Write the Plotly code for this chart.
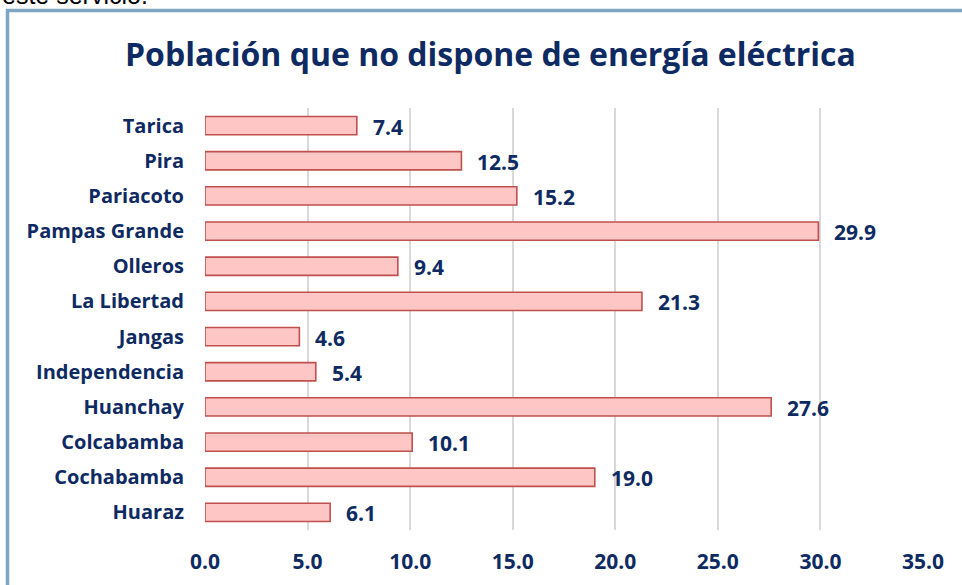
import plotly.graph_objects as go

categories = ["Huaraz", "Cochabamba", "Colcabamba", "Huanchay", "Independencia",
              "Jangas", "La Libertad", "Olleros", "Pampas Grande", "Pariacoto",
              "Pira", "Tarica"]
values = [6.1, 19.0, 10.1, 27.6, 5.4, 4.6, 21.3, 9.4, 29.9, 15.2, 12.5, 7.4]
x_ticks = [0, 5, 10, 15, 20, 25, 30, 35]
x_tick_labels = ["0.0", "5.0", "10.0", "15.0", "20.0", "25.0", "30.0", "35.0"]
title_text = "Población que no dispone de energía eléctrica"

NAVY = "#0E2A62"
FONT = "Open Sans"

W, H = 962, 585
L, R, T, B = 205, 39, 108, 55
pw, ph = W - L - R, H - T - B


def px_x(p):
    return (p - L) / pw


def px_y(p):
    return (H - B - p) / ph


fig = go.Figure()
fig.add_trace(go.Bar(
    y=categories, x=values, orientation="h", width=0.52,
    marker=dict(color="#FFC6C6", line=dict(color="#C0504D", width=1.6)),
    hoverinfo="x+y", showlegend=False,
))

annotations = []
for c, v in zip(categories, values):
    annotations.append(dict(
        x=v, y=c, xref="x", yref="y", text=f"{v:.1f}", showarrow=False,
        xanchor="left", yanchor="middle", xshift=14, yshift=-1,
        font=dict(family=FONT, size=21, color=NAVY, weight="bold"),
    ))

annotations.append(dict(
    x=px_x(490), y=px_y(53), xref="paper", yref="paper", text=title_text,
    showarrow=False, xanchor="center", yanchor="middle",
    font=dict(family=FONT, size=32, color=NAVY, weight="bold"),
))
annotations.append(dict(
    x=px_x(0), y=px_y(11), xref="paper", yref="paper", text="este servicio.",
    showarrow=False, xanchor="left", yanchor="bottom",
    font=dict(family="Liberation Sans", size=25, color="#000000"),
))

fig.update_layout(
    width=W, height=H,
    margin=dict(l=L, r=R, t=T, b=B, pad=0, autoexpand=False),
    paper_bgcolor="white", plot_bgcolor="white",
    annotations=annotations,
    shapes=[dict(
        type="rect", xref="paper", yref="paper",
        x0=px_x(7.5), x1=px_x(1000), y0=px_y(10.5), y1=px_y(700),
        line=dict(color="#7EA6C2", width=3.5), fillcolor="rgba(0,0,0,0)",
        layer="below",
    )],
    xaxis=dict(
        range=[0, 35], tickvals=x_ticks, ticktext=x_tick_labels,
        showgrid=True, gridcolor="#D9D9D9", gridwidth=2,
        zeroline=False, showline=False, ticks="",
        ticklabelstandoff=17, automargin=False,
        tickfont=dict(family=FONT, size=21, color=NAVY, weight="bold"),
        fixedrange=True,
    ),
    yaxis=dict(
        categoryorder="array", categoryarray=categories,
        showgrid=False, zeroline=False, showline=False, ticks="",
        ticklabelstandoff=20, automargin=False,
        tickfont=dict(family=FONT, size=20, color=NAVY, weight="bold"),
        range=[-0.5, len(categories) - 0.5],
        fixedrange=True,
    ),
)

fig.write_html(
    "out.html",
    config={"displayModeBar": False},
    post_script="document.body.style.margin='0';document.body.style.overflow='hidden';",
)
